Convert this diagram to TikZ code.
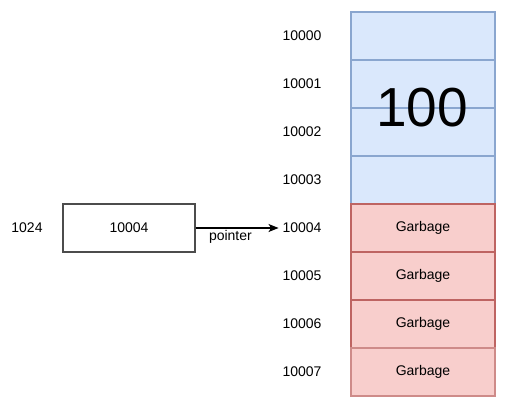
\documentclass[tikz,border=0pt]{standalone}
\usepackage{fontspec}
\setmainfont{Liberation Sans}
\usetikzlibrary{arrows.meta}
\definecolor{bluefill}{HTML}{DAE8FC}
\definecolor{bluedraw}{HTML}{8AA6CF}
\definecolor{redfill}{HTML}{F8CECC}
\definecolor{reddraw}{HTML}{BE6462}
\tikzset{
  cell/.style={minimum width=144pt, minimum height=48pt, inner sep=0pt, outer sep=0pt, line width=1.1pt},
  bluecell/.style={cell, fill=bluefill, draw=bluedraw},
  redcell/.style={cell, fill=redfill, draw=reddraw},
  addr/.style={inner sep=4pt, outer sep=0pt, font=\fontsize{14}{16}\selectfont},
  txt/.style={font=\fontsize{14}{16}\selectfont},
}
\begin{document}
\begin{tikzpicture}[x=1pt,y=-1pt]
\useasboundingbox (0,0) rectangle (514,408);
% blue cells
\foreach \i in {0,1,2,3} {
  \node[bluecell] (c\i) at (423,{36+48*\i}) {};
}
% red cells
\node[redcell, txt] (c4) at (423,228) {Garbage};
\node[redcell, txt] (c5) at (423,276) {Garbage};
\node[redcell, txt] (c6) at (423,324) {Garbage};
\node[redcell, txt, draw=reddraw!75] (c7) at (423,372) {Garbage};
% big value
\node[inner sep=0pt, font=\fontsize{55}{60}\selectfont] (val) at (422,108) {100};
% address labels
\node[addr] (a0) at (302,36) {10000};
\node[addr] (a1) at (302,84) {10001};
\node[addr] (a2) at (302,132) {10002};
\node[addr] (a3) at (302,180) {10003};
\node[addr] (a4) at (302,228) {10004};
\node[addr] (a5) at (302,276) {10005};
\node[addr] (a6) at (302,324) {10006};
\node[addr] (a7) at (302,372) {10007};
% pointer variable
\node[addr] (addr) at (27,228) {1024};
\node[draw=black!70, line width=1.1pt, minimum width=132pt, minimum height=48pt, inner sep=0pt, txt] (b) at (129,228) {10004};
\draw[line width=1.1pt, -{Stealth[length=10pt,width=8pt,inset=2.5pt]}] (b.east) -- (a4.west)
  node[pos=0.42, below=1pt, txt, inner sep=1pt] (lab) {pointer};
\end{tikzpicture}
\end{document}
